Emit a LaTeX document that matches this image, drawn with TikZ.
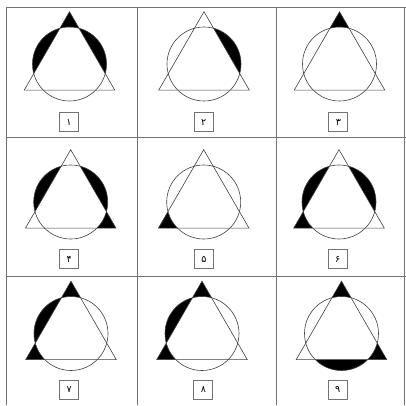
\documentclass[tikz,border=0pt]{standalone}
\usepackage{fontspec}
\newfontfamily\fa[Script=Arabic]{DejaVu Sans}
\def\Rt{52.3}
\def\rc{37}
\tikzset{
  gridline/.style={draw=black!55, line width=0.9pt},
  shapeline/.style={draw=black!75, line width=0.6pt},
  labelbox/.style={draw=black!55, line width=0.8pt, minimum size=19pt, inner sep=0pt, font=\fa\fontsize{9.5}{9.5}\selectfont}
}
% tip region near vertex at angle #1
\newcommand\tip[1]{\begin{scope}
  \clip (90:\Rt)--(210:\Rt)--(330:\Rt)--cycle;
  \clip (0,0)--(#1-60:130)--(#1:130)--(#1+60:130)--cycle;
  \fill[black, even odd rule] (0,0) circle (\rc) (-130,-130) rectangle (130,130);
\end{scope}}
% circle segment outside side with normal angle #1
\newcommand\seg[1]{\begin{scope}
  \clip (0,0) circle (\rc);
  \clip (0,0)--(#1-60:130)--(#1:130)--(#1+60:130)--cycle;
  \fill[black, even odd rule] (90:\Rt)--(210:\Rt)--(330:\Rt)--cycle (-130,-130) rectangle (130,130);
\end{scope}}
% #1 cx, #2 cy, #3 box x, #4 box y, #5 name, #6 label, #7 regions
\newcommand\cellfig[7]{%
\begin{scope}[shift={(#1,#2)}]
  #7
  \draw[shapeline] (90:\Rt)--(210:\Rt)--(330:\Rt)--cycle;
  \draw[shapeline] (0,0) circle (\rc);
\end{scope}
\node[labelbox] (#5) at (#3,#4) {#6};}
\begin{document}
\begin{tikzpicture}[x=1pt,y=1pt]
\useasboundingbox (0,0) rectangle (406,405);
\fill[white] (0,0) rectangle (406,405);
% grid
\draw[gridline] (6,398) -- (406,398);
\draw[gridline] (6,268) -- (406,268);
\draw[gridline] (6,129) -- (406,129);
\draw[gridline] (6,0) -- (6,398);
\draw[gridline] (137,0) -- (137,398);
\draw[gridline] (276,0) -- (276,398);
\draw[gridline] (404,0) -- (404,398);
% row 1
\cellfig{69.5}{341}{69}{283}{l1}{۱}{\tip{90}\seg{150}\seg{30}}
\cellfig{204}{341}{203.7}{283}{l2}{۲}{\seg{30}}
\cellfig{339.5}{341}{338.3}{283}{l3}{۳}{\tip{90}}
% row 2
\cellfig{70.7}{203}{69.2}{146}{l4}{۴}{\seg{150}\seg{30}\tip{330}}
\cellfig{203.7}{203}{204}{146}{l5}{۵}{\tip{210}}
\cellfig{339}{203}{337.7}{146}{l6}{۶}{\seg{150}\seg{30}\tip{210}}
% row 3
\cellfig{71}{71.5}{69.3}{15.5}{l7}{۷}{\tip{90}\seg{150}\tip{210}}
\cellfig{202}{71.5}{203.3}{15.5}{l8}{۸}{\tip{90}\seg{150}\tip{210}}
\cellfig{341.5}{71.5}{337.7}{15.5}{l9}{۹}{\tip{90}\seg{270}\tip{330}}
\end{tikzpicture}
\end{document}
